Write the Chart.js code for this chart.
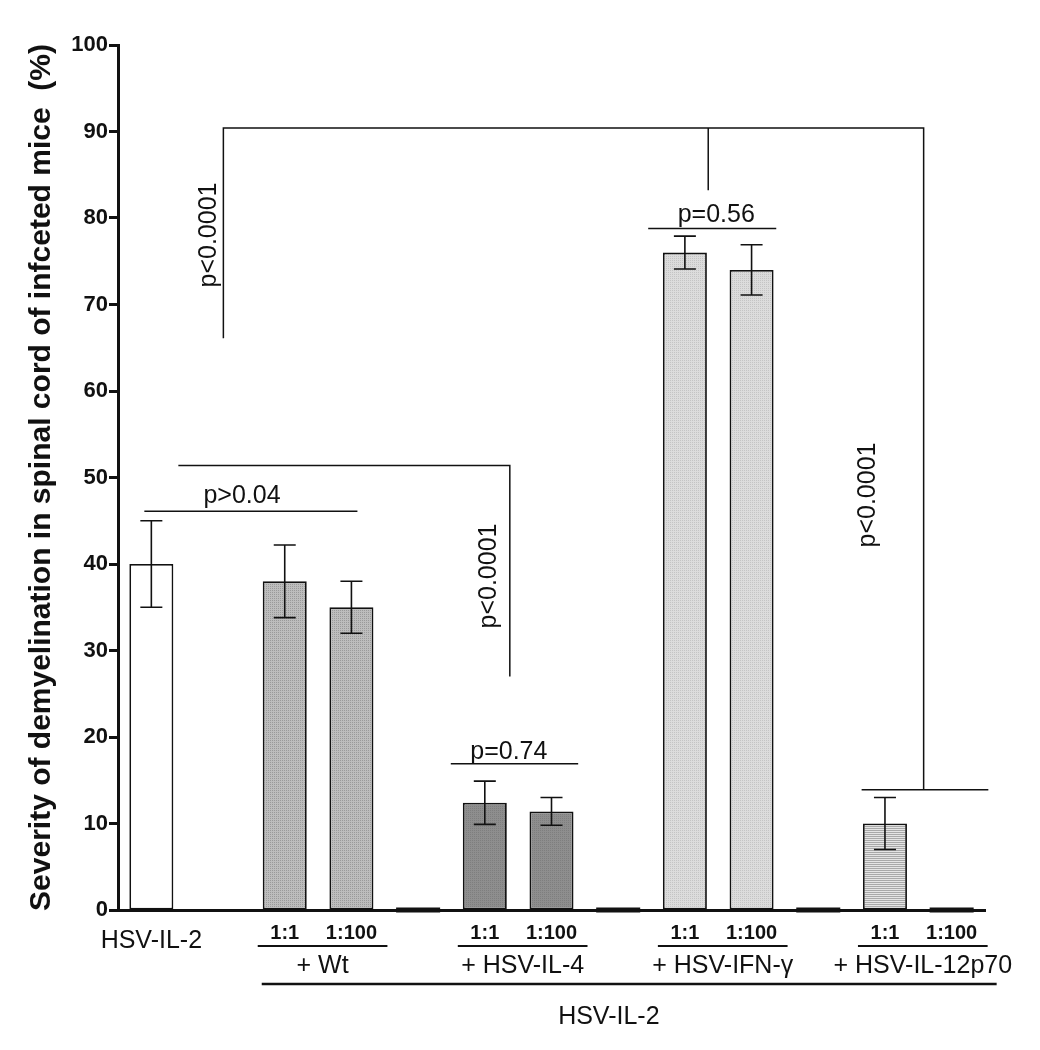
<!DOCTYPE html>
<html>
<head>
<meta charset="utf-8">
<script src="https://cdn.jsdelivr.net/npm/chart.js@4.4.1/dist/chart.umd.min.js"></script>
<style>
  html, body { margin: 0; padding: 0; background: #fff; }
  #wrap { width: 1040px; height: 1050px; }
</style>
</head>
<body>
<div id="wrap"><canvas id="chart1" width="1040" height="1050"></canvas></div>
<script>

const fontFamily = '"Liberation Sans", Arial, sans-serif'

// one slot per bar position on the x axis (empty slot between HSV-IL-2 and Wt)
const slotLabels = ['HSV-IL-2', '', '1:1', '1:100', '', '1:1', '1:100', '', '1:1', '1:100', '', '1:1', '1:100'];
const meanValues = [40, null, 38, 35, 0, 12.4, 11.4, 0, 76, 74, 0, 10, 0];
const errValues  = [5, null, 4.2, 3, 0, 2.5, 1.6, 0, 1.9, 2.9, 0, 3, 0];
const fillKind   = ['white', null, 'wt', 'wt', null, 'il4', 'il4', null, 'ifn', 'ifn', null, 'il12', null];

const groupNames = ['+ Wt', '+ HSV-IL-4', '+ HSV-IFN-\u03b3', '+ HSV-IL-12p70'];
const groupSlots = [[2, 3], [5, 6], [8, 9], [11, 12]];

const yTitle = 'Severity of demyelination in spinal cord of infceted mice  (%)';

function makePattern(a, b, kind) {
    var c = document.createElement('canvas');
    c.width = 4; c.height = 4;
    var g = c.getContext('2d');
    g.fillStyle = a;
    g.fillRect(0, 0, 4, 4);
    g.fillStyle = b;
    if (kind === 'dots') {
        g.fillRect(0, 0, 1, 1); g.fillRect(2, 2, 1, 1);
        g.fillRect(2, 0, 1, 1); g.fillRect(0, 2, 1, 1);
    } else {
        g.fillRect(0, 0, 4, 1); g.fillRect(0, 2, 4, 1);
    }
    return g.createPattern(c, 'repeat');
}

const fills = {
    white: '#ffffff',
    wt: makePattern('#bdbdbd', '#9a9a9a', 'dots'),
    il4: makePattern('#8e8e8e', '#7e7e7e', 'dots'),
    ifn: makePattern('#dcdcdc', '#c4c4c4', 'dots'),
    il12: makePattern('#e4e4e4', '#a8a8a8', 'lines')
};

// error bars, brackets and the group labels under the axis
const extras = {
    id: 'extras',
    afterDraw(chart) {
        var ctx = chart.ctx;
        var xs = chart.scales.x, ys = chart.scales.y;
        var X = v => xs.getPixelForValue(v);
        var Y = v => ys.getPixelForValue(v);

        ctx.save();
        ctx.strokeStyle = '#111';
        ctx.fillStyle = '#111';

        // error bars
        ctx.lineWidth = 1.6;
        meanValues.forEach(function (m, i) {
            if (!m) return;
            var x = X(i), lo = Y(m - errValues[i]), hi = Y(m + errValues[i]);
            ctx.beginPath();
            ctx.moveTo(x, lo); ctx.lineTo(x, hi);
            ctx.moveTo(x - 11, lo); ctx.lineTo(x + 11, lo);
            ctx.moveTo(x - 11, hi); ctx.lineTo(x + 11, hi);
            ctx.stroke();
        });

        function line(pts) {
            ctx.beginPath();
            ctx.moveTo(X(pts[0][0]), Y(pts[0][1]));
            for (var k = 1; k < pts.length; k++) ctx.lineTo(X(pts[k][0]), Y(pts[k][1]));
            ctx.stroke();
        }
        ctx.lineWidth = 1.5;
        line([[-0.105, 46.1], [3.09, 46.1]]);
        line([[0.405, 51.4], [5.375, 51.4], [5.375, 27.0]]);
        line([[4.49, 16.9], [6.40, 16.9]]);
        line([[7.45, 78.8], [9.37, 78.8]]);
        line([[8.35, 83.2], [8.35, 90.4]]);
        line([[1.08, 66.1], [1.08, 90.4], [11.58, 90.4], [11.58, 13.9]]);
        line([[10.65, 13.9], [12.55, 13.9]]);

        ctx.font = '25px ' + fontFamily;
        ctx.textAlign = 'center';
        ctx.textBaseline = 'alphabetic';
        ctx.fillText('p>0.04', X(1.36), Y(46.1) - 8);
        ctx.fillText('p=0.74', X(5.36), Y(16.9) - 5);
        ctx.fillText('p=0.56', X(8.47), Y(78.8) - 6);

        function vtext(t, x, y) {
            ctx.save();
            ctx.translate(x, y);
            ctx.rotate(-Math.PI / 2);
            ctx.textBaseline = 'middle';
            ctx.fillText(t, 0, 0);
            ctx.restore();
        }
        vtext('p<0.0001', X(0.87), 235);
        vtext('p<0.0001', X(5.07), 576);
        vtext('p<0.0001', X(10.74), 495);

        // labels under the axis
        var base = Y(0);
        ctx.fillText(slotLabels[0], X(0), base + 38);
        ctx.font = 'bold 20px ' + fontFamily;
        slotLabels.forEach(function (t, i) {
            if (i > 0 && t) ctx.fillText(t, X(i), base + 29);
        });
        ctx.lineWidth = 2.2;
        ctx.font = '25px ' + fontFamily;
        groupSlots.forEach(function (g, k) {
            var x0 = X(g[0]) - 27, x1 = X(g[1]) + 36;
            ctx.beginPath();
            ctx.moveTo(x0, base + 36); ctx.lineTo(x1, base + 36);
            ctx.stroke();
            ctx.fillText(groupNames[k], (x0 + x1) / 2, base + 63);
        });
        ctx.lineWidth = 2.4;
        ctx.beginPath();
        ctx.moveTo(X(2) - 23, base + 74); ctx.lineTo(X(12) + 45, base + 74);
        ctx.stroke();
        ctx.fillText('HSV-IL-2', X(6.86), base + 114);

        ctx.restore();
    }
};

var ctx = document.getElementById('chart1').getContext('2d');
var chart = new Chart(ctx, {
    type: 'bar',
    data: {
        labels: slotLabels,
        datasets: [{
            data: meanValues.map(v => v ? v : null),
            backgroundColor: fillKind.map(k => k ? fills[k] : 'transparent'),
            borderColor: '#111',
            borderWidth: 1.8,
            borderSkipped: false,
            grouped: false,
            barPercentage: 0.66,
            categoryPercentage: 1
        }, {
            // the zero-height groups, drawn as a thick dash on the baseline
            data: meanValues.map(v => v === 0 ? [-0.3, 0.3] : null),
            backgroundColor: '#111',
            borderWidth: 0,
            grouped: false,
            barPercentage: 0.66,
            categoryPercentage: 1,
            clip: false
        }]
    },
    options: {
        responsive: false,
        animation: false,
        layout: { padding: { left: 20, top: 45, right: 55, bottom: 0 } },
        plugins: {
            legend: { display: false },
            tooltip: { enabled: false }
        },
        scales: {
            x: {
                offset: true,
                grid: { display: false },
                border: { display: true, width: 3, color: '#111' },
                ticks: { display: false },
                afterFit: function (s) { s.height = 140; }
            },
            y: {
                min: 0,
                max: 100,
                ticks: {
                    stepSize: 10,
                    color: '#111',
                    padding: 1,
                    font: { family: fontFamily, size: 22, weight: 'bold' }
                },
                grid: {
                    drawOnChartArea: false,
                    drawTicks: true,
                    tickLength: 9,
                    tickWidth: 3,
                    color: '#111'
                },
                border: { display: true, width: 3, color: '#111' },
                title: {
                    display: true,
                    text: yTitle,
                    color: '#111',
                    padding: 4,
                    font: { family: fontFamily, size: 30, weight: 'bold' }
                },
                afterFit: function (s) { s.width = 98; }
            }
        }
    },
    plugins: [extras]
});

</script>
</body>
</html>
